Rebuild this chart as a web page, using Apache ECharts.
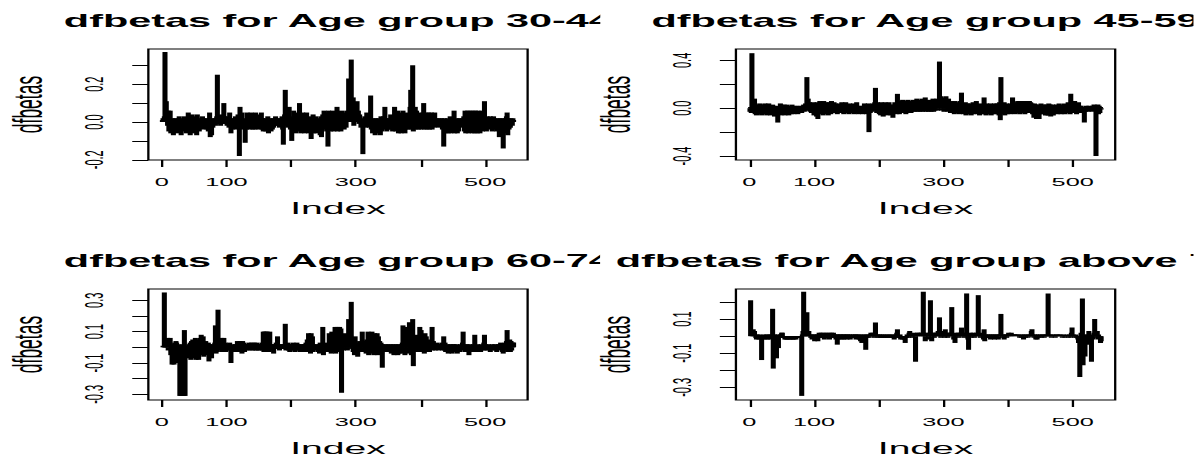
<!DOCTYPE html>
<html><head><meta charset="utf-8">
<script src="https://cdn.jsdelivr.net/npm/echarts@6/dist/echarts.min.js"></script>
<style>
html,body{margin:0;padding:0;background:#fff;width:1194px;height:457px;overflow:hidden}
#wrap{position:absolute;left:0;top:0;width:519.13px;height:480px;transform:scaleX(2.3);transform-origin:0 0}
.p{position:absolute;overflow:hidden}
</style></head><body>
<div id="wrap">
<div class="p" id="p1" style="left:0;top:0;width:260.87px;height:240px"></div>
<div class="p" id="p2" style="left:250px;top:0;width:269.13px;height:240px"></div>
<div class="p" id="p3" style="left:0;top:240px;width:260.87px;height:240px"></div>
<div class="p" id="p4" style="left:250px;top:240px;width:269.13px;height:240px"></div>
</div>
<script>
// ---- data (dfbetas by observation index 1..544) ----
const titles = ["dfbetas for Age group 30-44","dfbetas for Age group 45-59","dfbetas for Age group 60-74","dfbetas for Age group above 75"];
const xTickValues = [0,100,200,300,400,500];
const xLabelValues = [0,100,300,500];
const yTicks3044 = [-0.2,-0.1,0,0.1,0.2,0.3];
const yLabels3044 = [-0.2,0,0.2];
const yTicks4559 = [-0.4,-0.2,0,0.2,0.4];
const yLabels4559 = [-0.4,0,0.4];
const yTicks6074 = [-0.3,-0.2,-0.1,0,0.1,0.2,0.3];
const yLabels6074 = [-0.3,-0.1,0.1,0.3];
const yTicks75 = [-0.3,-0.2,-0.1,0,0.1,0.2];
const yLabels75 = [-0.3,-0.1,0.1];

const dfb3044 = [
0.01,0.02,0.01,0.03,0.37,0.02,0.11,0.04,-0.02,0.06,
-0.05,0.02,0.06,-0.06,0.01,-0.04,0.02,-0.07,0.01,-0.05,
0.02,-0.03,0.01,-0.06,0.02,-0.04,0.03,-0.05,0.01,-0.07,
0.02,-0.04,0.01,-0.05,0.03,-0.03,0.01,-0.06,0.02,-0.04,
0.05,-0.03,0.02,-0.07,0.01,-0.05,0.04,-0.02,0.03,-0.06,
0.01,-0.04,0.02,-0.07,0.04,-0.03,0.01,-0.05,0.02,-0.03,
0.01,-0.02,0.03,-0.04,0.02,-0.01,0.01,-0.03,0.02,-0.04,
0.01,-0.05,0.02,0.05,-0.08,0.01,-0.07,0.02,-0.03,0.01,
-0.01,0.02,-0.02,0.01,0.03,0.25,-0.01,0.03,-0.01,0.02,
-0.02,0.04,0.01,-0.01,0.02,0.10,0.03,-0.01,0.02,0.01,
-0.02,0.03,0.01,-0.03,0.05,0.02,-0.06,0.01,-0.04,0.02,
-0.03,0.01,-0.02,0.03,-0.04,0.02,-0.01,0.04,0.01,-0.18,
0.08,0.02,-0.03,0.05,0.01,-0.04,0.02,-0.03,-0.11,0.01,
-0.04,0.05,0.02,-0.03,0.04,-0.04,0.01,0.05,-0.03,0.02,
-0.04,0.03,0.01,-0.04,0.05,-0.02,0.02,-0.03,0.04,-0.04,
0.02,-0.03,0.01,0.05,-0.04,0.02,-0.05,0.01,-0.03,0.02,
-0.05,0.01,-0.04,0.03,-0.06,0.01,-0.03,0.02,-0.05,0.01,
-0.04,0.02,-0.03,0.01,-0.02,0.03,0.01,-0.02,0.02,-0.01,
0.01,-0.03,0.02,-0.02,0.01,0.03,-0.04,-0.12,0.02,0.04,
0.17,0.03,-0.02,0.05,-0.03,0.02,0.08,0.01,-0.04,0.03,
-0.10,0.02,-0.05,0.06,-0.03,0.04,-0.06,0.02,0.05,-0.04,
0.03,-0.05,0.10,0.02,-0.06,0.04,-0.03,0.05,-0.05,0.02,
-0.06,0.03,-0.04,0.05,-0.05,0.02,-0.06,0.01,-0.04,0.03,
-0.09,0.02,-0.05,0.04,-0.06,0.02,-0.05,0.03,-0.06,0.01,
-0.04,0.02,-0.05,0.01,-0.07,0.03,-0.08,0.02,0.04,-0.03,
0.06,0.02,-0.04,0.05,-0.05,0.02,-0.13,0.06,-0.03,0.04,
-0.05,0.03,-0.04,0.06,0.02,-0.05,0.05,-0.03,0.04,-0.04,
0.08,-0.05,0.02,0.05,-0.04,0.03,-0.05,0.06,-0.03,0.02,
0.05,-0.04,0.02,0.04,-0.03,0.06,0.03,0.05,0.23,0.04,
0.06,0.10,0.33,0.08,0.05,0.13,-0.02,0.10,0.04,0.07,
0.03,0.11,0.02,0.06,-0.01,0.04,0.01,-0.03,0.02,-0.02,
-0.17,0.01,-0.02,0.03,-0.03,0.02,0.05,-0.02,0.04,0.01,
-0.03,0.02,0.14,-0.04,0.01,-0.06,0.02,-0.05,0.01,-0.07,
0.02,-0.05,0.01,-0.06,0.02,-0.04,0.01,-0.07,0.03,-0.05,
0.02,-0.04,0.03,0.01,0.08,-0.03,0.02,-0.05,0.01,-0.04,
0.02,-0.03,0.01,0.04,-0.04,0.02,-0.05,0.01,-0.03,0.08,
0.02,-0.05,0.04,-0.03,0.06,-0.06,0.03,-0.04,0.05,-0.06,
0.02,-0.05,0.06,-0.03,0.01,-0.06,0.03,-0.04,0.02,0.05,
-0.04,0.03,-0.03,0.08,0.17,-0.04,0.06,0.30,-0.05,0.04,
-0.03,0.08,-0.04,0.06,-0.02,0.03,-0.04,0.05,-0.03,0.02,
-0.04,0.03,-0.02,0.05,0.10,-0.04,0.02,-0.03,0.05,-0.04,
0.03,-0.02,0.05,-0.04,0.02,-0.03,0.05,-0.04,0.01,0.03,
-0.03,0.05,0.01,-0.02,0.02,-0.01,0.01,-0.03,0.02,-0.01,
0.01,-0.02,0.02,-0.04,0.01,-0.13,0.02,-0.03,-0.06,0.01,
-0.03,0.02,-0.06,0.01,-0.02,0.03,-0.06,0.01,-0.04,0.02,
-0.05,0.06,-0.06,0.01,-0.03,0.02,-0.06,0.01,-0.05,0.02,
-0.03,0.01,-0.02,0.02,-0.01,0.01,0.03,-0.05,0.06,-0.06,
0.05,-0.04,0.06,-0.06,0.05,-0.05,0.06,-0.04,0.05,-0.06,
0.06,-0.05,0.04,-0.06,0.06,-0.04,0.05,-0.06,0.06,-0.05,
0.04,-0.06,0.05,-0.04,0.06,-0.05,0.03,0.02,0.11,-0.04,
0.02,-0.05,0.03,-0.02,0.02,-0.04,0.01,0.03,-0.03,0.02,
-0.05,0.01,0.03,-0.04,0.02,-0.03,0.01,-0.05,0.02,-0.03,
0.01,-0.08,0.02,-0.06,0.01,-0.05,0.02,-0.14,0.01,-0.06,
0.02,-0.05,0.03,0.05,-0.07,0.02,-0.04,0.01,-0.03,0.02,
0.01,-0.02,0.02,0.01];

const dfb4559 = [
-0.03,0.01,-0.04,0.46,-0.02,0.02,-0.03,0.08,-0.05,0.03,
-0.06,0.01,-0.03,0.02,-0.05,0.04,-0.02,0.03,-0.06,0.01,
-0.04,0.03,-0.02,0.04,-0.05,0.02,-0.06,0.03,-0.03,0.04,
-0.05,0.02,-0.06,0.01,-0.04,0.03,-0.05,0.02,-0.07,0.01,
-0.04,0.02,-0.06,-0.12,-0.03,0.01,-0.05,0.04,-0.06,0.03,
-0.04,0.02,-0.05,0.03,-0.06,0.01,-0.04,0.03,-0.05,0.02,
-0.06,0.01,-0.04,0.02,-0.05,0.03,-0.04,0.01,-0.05,0.02,
-0.04,0.01,-0.03,0.02,-0.05,0.01,-0.04,0.02,-0.03,0.01,
-0.04,0.02,-0.02,0.03,-0.03,0.01,0.04,-0.02,0.26,0.03,
0.08,-0.02,0.05,-0.03,0.02,-0.04,0.04,-0.02,0.05,-0.06,
0.03,-0.05,0.04,-0.07,0.05,-0.09,0.02,-0.05,0.06,-0.04,
0.05,-0.03,0.02,-0.06,0.06,-0.04,0.03,-0.05,0.05,-0.03,
0.04,-0.06,0.05,-0.04,0.03,-0.05,0.06,-0.03,0.02,-0.04,
0.05,-0.03,0.04,-0.04,0.02,-0.05,0.03,-0.02,0.04,-0.04,
0.02,-0.03,0.05,-0.04,0.02,-0.05,0.04,-0.02,0.05,-0.03,
0.02,-0.04,0.03,-0.05,0.04,-0.02,0.03,-0.04,0.02,-0.03,
0.04,-0.05,0.02,-0.03,0.01,0.05,-0.04,0.02,-0.05,0.01,
-0.03,0.02,-0.04,0.01,-0.05,0.02,-0.03,0.04,-0.04,0.01,
-0.05,0.03,-0.02,0.04,-0.20,0.03,-0.04,0.02,0.01,-0.03,
0.04,-0.02,0.03,0.05,0.17,0.02,-0.04,0.05,-0.02,0.04,
-0.05,0.03,-0.06,0.05,-0.03,0.04,-0.07,0.02,-0.05,0.05,
-0.04,0.03,-0.06,0.04,-0.03,0.05,-0.05,0.02,-0.06,0.03,
-0.05,-0.08,0.03,-0.04,0.05,-0.03,0.04,-0.05,0.12,-0.04,
0.03,-0.05,0.06,-0.04,0.05,-0.03,0.07,-0.04,0.04,-0.03,
0.06,-0.05,0.04,-0.03,0.07,-0.04,0.05,-0.03,0.06,-0.04,
0.05,-0.03,0.07,-0.02,0.04,-0.03,0.06,-0.02,0.08,-0.03,
0.05,-0.02,0.07,-0.03,0.06,-0.02,0.08,-0.03,0.05,-0.02,
0.07,0.09,-0.03,0.06,-0.02,0.05,-0.03,0.07,-0.02,0.04,
-0.03,0.06,-0.02,0.08,-0.03,0.07,-0.02,0.06,0.05,0.08,
-0.02,0.07,0.05,0.39,0.06,0.10,-0.02,0.08,0.05,0.09,
-0.03,0.07,0.04,0.10,-0.02,0.06,-0.03,0.08,-0.02,0.05,
-0.04,0.06,-0.03,0.05,-0.04,0.04,-0.05,0.06,-0.03,0.04,
-0.04,0.05,-0.03,0.04,-0.05,0.06,-0.04,0.13,-0.03,0.04,
-0.05,0.03,-0.04,0.05,-0.06,0.02,-0.05,0.04,-0.04,0.03,
-0.05,0.04,-0.06,0.02,-0.04,0.05,-0.05,0.03,-0.04,0.02,
0.06,-0.05,0.03,-0.04,0.02,-0.06,0.04,-0.03,0.02,-0.05,
0.03,-0.04,0.09,-0.05,0.03,-0.06,0.04,-0.05,0.02,-0.04,
0.03,-0.05,0.04,-0.06,0.02,-0.04,0.03,-0.05,0.04,-0.03,
0.02,-0.05,0.04,-0.04,0.03,-0.06,0.05,-0.10,0.26,0.04,
-0.05,0.03,-0.04,0.05,-0.06,0.03,-0.04,0.04,-0.05,0.03,
-0.04,0.02,-0.05,0.04,-0.03,0.02,0.09,-0.04,0.03,-0.05,
0.04,-0.03,0.05,-0.04,0.06,-0.03,0.04,-0.05,0.05,-0.03,
0.06,-0.04,0.05,-0.03,0.04,-0.05,0.06,-0.03,0.05,-0.04,
0.04,-0.03,0.06,-0.04,0.05,-0.03,0.04,-0.05,0.03,-0.08,
0.04,-0.06,0.03,-0.09,0.02,-0.07,0.03,-0.09,0.02,-0.05,
0.04,-0.03,0.02,-0.05,0.03,-0.04,0.01,-0.06,0.03,-0.05,
0.02,-0.06,0.04,-0.05,0.03,-0.07,0.02,-0.04,0.03,-0.06,
0.02,-0.03,0.01,-0.04,0.03,-0.05,0.02,-0.03,0.04,-0.04,
0.02,-0.05,0.03,-0.04,0.02,-0.03,0.04,-0.05,0.02,-0.04,
0.03,-0.03,0.05,-0.04,0.02,-0.05,0.12,-0.03,0.06,-0.04,
0.05,-0.03,0.06,-0.04,0.04,-0.05,0.03,-0.03,0.05,-0.04,
0.02,-0.03,0.02,-0.04,0.01,-0.02,0.01,-0.12,0.01,-0.03,
0.02,-0.02,0.01,-0.03,0.02,-0.01,0.01,-0.02,0.01,-0.03,
0.02,-0.01,0.03,-0.02,0.02,-0.40,0.01,-0.03,0.03,-0.05,
0.02,-0.04,0.01,-0.01];

const dfb6074 = [
0.00,0.01,0.00,0.35,0.01,0.02,0.00,0.01,0.06,-0.02,
0.05,0.00,0.06,-0.05,-0.03,-0.11,0.02,-0.08,-0.11,0.03,
-0.10,0.04,0.03,-0.06,-0.10,0.02,-0.07,-0.31,-0.04,-0.31,
-0.31,-0.31,0.02,-0.31,0.11,-0.31,-0.05,-0.02,-0.06,0.01,
-0.07,0.02,-0.05,0.03,-0.08,0.04,-0.06,0.05,-0.07,0.03,
-0.05,0.06,-0.08,0.05,-0.06,0.04,-0.08,0.03,-0.04,0.06,
0.08,-0.05,0.03,0.07,-0.06,0.02,-0.04,0.04,-0.03,0.01,
-0.05,0.03,-0.09,0.02,-0.04,0.01,-0.07,0.02,-0.03,0.01,
-0.02,0.03,0.14,-0.04,0.02,-0.03,0.24,0.05,-0.02,0.04,
-0.01,0.06,0.02,-0.03,0.01,0.06,-0.02,0.03,-0.03,0.01,
-0.02,0.02,-0.01,0.01,0.03,-0.02,-0.10,0.01,-0.03,0.02,
-0.02,0.01,-0.03,0.02,0.01,-0.02,0.04,-0.03,0.03,-0.02,
0.04,-0.03,0.02,-0.04,0.04,-0.02,0.03,-0.03,0.02,-0.01,
0.02,-0.02,0.01,-0.01,0.03,-0.02,0.02,-0.01,0.03,-0.02,
0.02,-0.01,0.03,-0.02,0.01,-0.02,0.03,-0.01,0.02,-0.02,
0.01,-0.02,0.02,-0.01,0.03,-0.02,0.10,-0.03,0.10,-0.02,
0.10,-0.03,0.10,-0.02,0.08,-0.03,0.10,0.02,-0.02,0.01,
-0.01,0.02,-0.04,0.01,0.02,-0.01,0.03,0.01,0.07,-0.01,
0.02,-0.02,0.01,-0.01,0.02,-0.01,0.01,0.02,-0.01,0.02,
0.15,-0.02,0.02,-0.01,0.03,-0.02,0.02,-0.03,0.01,-0.02,
0.02,-0.01,0.03,-0.02,0.01,-0.03,0.02,-0.02,0.03,-0.01,
0.02,-0.02,0.01,-0.03,0.02,-0.01,0.02,-0.02,0.01,-0.03,
0.02,-0.01,0.03,-0.02,0.05,-0.03,0.09,-0.02,0.08,-0.04,
0.09,-0.02,0.07,-0.03,0.02,-0.01,0.01,-0.02,0.02,-0.01,
0.01,-0.03,0.02,-0.04,0.03,-0.02,0.02,0.01,0.13,-0.05,
0.02,-0.03,0.01,-0.02,0.03,-0.01,0.02,-0.03,0.09,-0.02,
0.08,-0.04,0.10,-0.02,0.09,-0.03,0.07,0.13,-0.04,0.12,
-0.02,0.13,-0.03,0.11,0.13,-0.02,0.12,-0.29,0.02,0.04,
-0.02,0.03,0.09,-0.01,0.02,0.05,-0.02,0.06,0.18,0.04,
-0.01,0.08,0.29,0.05,0.02,-0.03,0.06,-0.05,0.07,-0.04,
0.03,-0.02,-0.06,0.02,-0.03,0.04,-0.02,0.03,-0.01,0.10,
0.02,-0.03,0.04,-0.02,0.03,-0.04,0.05,-0.02,0.10,-0.05,
0.09,-0.03,0.06,-0.04,0.10,-0.03,0.08,-0.05,0.09,-0.04,
0.06,-0.03,0.09,-0.05,0.07,-0.03,0.04,-0.02,0.03,-0.04,
-0.13,0.02,-0.03,0.01,-0.02,0.02,-0.01,0.01,-0.03,0.02,
-0.02,0.01,-0.03,0.02,-0.04,0.01,-0.03,0.02,-0.05,0.01,
-0.04,0.02,-0.03,0.01,-0.05,0.02,-0.04,0.01,-0.03,0.02,
-0.04,0.03,0.14,-0.03,0.02,-0.05,0.13,0.02,-0.04,0.03,
-0.02,0.05,0.16,-0.03,0.04,-0.05,0.06,0.18,-0.12,0.03,
-0.02,0.04,-0.03,0.02,0.08,-0.02,0.05,-0.03,0.13,-0.02,
0.11,-0.03,0.08,-0.02,0.06,-0.04,0.09,-0.02,0.07,-0.03,
0.05,-0.02,0.04,-0.03,0.02,-0.01,0.03,0.13,-0.02,0.04,
-0.01,0.02,-0.02,0.01,0.03,-0.01,0.02,-0.02,0.01,-0.01,
0.02,-0.01,0.03,-0.02,0.01,0.07,-0.02,0.03,-0.03,0.01,
-0.02,0.02,-0.04,0.01,-0.03,0.02,-0.01,0.01,-0.04,0.02,
-0.01,0.02,-0.03,0.01,-0.02,0.02,-0.04,0.01,-0.02,0.01,
-0.03,0.02,-0.01,0.01,0.03,0.10,-0.02,0.02,-0.03,0.01,
-0.02,0.02,-0.01,0.01,-0.05,0.02,-0.03,0.01,-0.02,0.01,
-0.03,0.02,-0.01,0.08,-0.02,0.01,-0.03,0.02,-0.01,0.01,
-0.02,0.01,-0.03,0.02,-0.01,0.01,-0.02,0.03,0.08,-0.02,
0.02,-0.01,0.01,-0.02,0.02,-0.01,0.01,-0.03,0.01,-0.01,
0.02,-0.02,0.01,-0.01,0.02,-0.02,0.01,-0.03,0.01,0.02,
-0.01,0.02,-0.02,0.03,-0.01,0.02,-0.03,-0.04,0.02,-0.02,
0.03,-0.01,0.04,0.11,-0.03,0.04,-0.02,0.05,-0.03,0.04,
-0.02,0.03,0.02,0.03];

const dfb75 = [
0.00,0.21,0.01,0.00,0.02,0.04,0.01,0.03,0.00,-0.01,
-0.02,0.01,-0.01,0.00,-0.02,0.01,-0.01,0.00,-0.14,-0.02,
0.00,-0.01,0.01,-0.02,0.00,-0.01,0.01,-0.02,0.00,-0.01,
0.01,-0.02,0.00,0.01,-0.01,0.16,-0.19,-0.03,0.01,-0.02,
0.00,-0.13,-0.02,0.01,-0.07,0.00,-0.01,0.01,0.00,0.02,
0.02,-0.01,0.00,-0.01,-0.02,-0.01,-0.02,-0.01,-0.02,-0.01,
-0.01,-0.02,-0.01,-0.02,-0.01,-0.01,-0.02,-0.01,-0.02,-0.01,
-0.01,-0.02,-0.01,-0.01,0.00,-0.01,0.00,-0.01,0.00,-0.01,
-0.35,0.01,0.03,0.26,0.02,0.01,0.03,0.01,0.14,0.02,
0.01,0.03,0.00,0.01,-0.01,0.01,-0.02,0.00,-0.01,0.01,
-0.03,0.00,0.01,-0.02,0.01,-0.03,0.00,0.02,-0.01,0.01,
0.02,-0.01,0.01,0.00,0.02,-0.02,0.01,-0.01,0.02,0.01,
-0.01,0.01,0.02,-0.02,0.01,0.00,0.02,-0.01,0.01,0.02,
-0.01,0.01,0.00,-0.02,0.01,-0.05,0.01,-0.02,0.00,0.01,
-0.01,0.01,-0.02,0.00,0.01,-0.02,0.01,0.00,-0.01,0.01,
-0.02,0.01,0.00,-0.01,0.01,-0.02,0.00,0.01,-0.01,0.00,
0.01,-0.01,0.00,0.01,-0.02,0.01,0.00,-0.01,0.01,-0.02,
0.00,-0.03,0.01,-0.04,0.00,-0.02,0.01,-0.03,-0.01,-0.08,
0.01,-0.01,0.00,0.01,-0.01,0.00,0.01,0.02,0.01,0.00,
0.02,0.01,-0.01,0.01,0.08,0.01,0.00,0.01,-0.01,0.00,
0.01,-0.01,0.00,0.01,-0.01,0.00,0.01,-0.01,0.00,-0.01,
0.01,0.00,-0.01,0.01,0.00,-0.01,0.00,0.01,-0.01,0.00,
0.01,0.00,-0.01,-0.02,0.00,0.01,-0.01,0.02,0.04,0.00,
-0.01,0.00,0.01,-0.02,0.00,-0.01,-0.02,0.00,-0.01,-0.02,
-0.04,0.00,-0.01,0.01,0.00,-0.01,0.02,0.03,0.01,0.00,
0.01,-0.01,0.00,0.01,0.02,0.00,-0.15,0.01,0.00,0.02,
0.01,0.00,0.02,0.01,0.00,0.02,0.01,0.00,0.26,0.02,
0.01,-0.03,0.00,0.02,0.01,0.00,-0.02,0.01,0.02,0.21,
0.01,-0.03,0.00,0.02,0.01,-0.01,0.02,0.01,0.00,0.02,
0.01,0.03,0.00,0.11,0.02,-0.01,0.01,0.03,0.00,0.02,
0.01,-0.01,0.04,0.01,0.00,0.02,-0.01,0.01,0.02,0.00,
0.01,0.02,0.17,0.01,0.00,-0.02,0.01,-0.04,0.00,0.02,
0.01,0.00,0.02,-0.01,0.01,0.00,0.02,0.05,0.01,0.00,
0.02,-0.01,0.01,0.00,0.02,0.25,0.01,-0.02,-0.08,0.01,
0.00,0.02,-0.01,0.01,0.00,0.02,0.01,-0.01,0.00,0.01,
0.02,0.00,0.01,0.24,0.01,0.00,-0.01,0.01,0.00,0.02,
0.01,-0.02,0.04,-0.03,0.01,0.00,-0.01,0.01,0.00,-0.01,
0.01,0.00,-0.02,0.01,0.00,-0.01,0.01,0.00,-0.02,0.01,
0.00,-0.01,0.01,0.00,-0.02,0.01,0.00,0.01,0.13,0.00,
-0.01,0.01,0.00,-0.02,0.01,0.00,0.01,-0.01,0.00,0.01,
0.02,0.01,0.00,0.01,0.02,0.01,0.00,0.01,0.00,0.01,
0.00,0.01,0.00,0.01,0.00,0.01,0.00,-0.01,0.00,0.01,
-0.01,0.00,0.01,-0.02,0.00,0.01,-0.01,0.00,0.01,0.00,
-0.01,0.01,0.00,0.01,0.00,0.03,0.04,0.01,0.00,-0.01,
0.01,0.00,-0.02,0.01,-0.02,0.00,0.01,-0.01,0.00,0.01,
0.00,-0.01,0.01,0.00,0.01,-0.01,0.00,0.01,0.00,0.01,
0.00,0.25,0.01,0.00,0.01,0.00,-0.01,0.00,0.01,0.00,
0.01,0.00,-0.01,0.00,0.01,0.00,0.01,0.00,0.01,0.00,
0.00,0.01,0.00,-0.01,0.00,0.01,0.00,-0.01,0.00,0.00,
0.01,0.00,-0.01,0.00,0.01,0.00,-0.01,0.02,0.05,0.00,
0.01,0.00,-0.01,0.00,0.01,-0.01,0.00,-0.02,-0.04,-0.01,
-0.24,-0.05,0.02,-0.03,0.22,-0.17,-0.02,0.01,-0.12,-0.03,
0.00,-0.02,0.01,-0.03,0.03,-0.05,0.00,-0.02,-0.15,0.01,
-0.02,0.00,0.02,0.10,-0.01,0.01,0.00,0.03,-0.02,0.01,
-0.01,0.00,-0.04,-0.03];

// ---- layout ----
const FONT = "'Liberation Sans', Arial, sans-serif";
const panels = [
  {id:'p1', title:titles[0], values:dfb3044, gl:64.5, cx:146.9, ymin:-0.201, ymax:0.386, ticks:yTicks3044, labels:yLabels3044},
  {id:'p2', title:titles[1], values:dfb4559, gl:69.97, cx:152.37, ymin:-0.433, ymax:0.495, ticks:yTicks4559, labels:yLabels4559},
  {id:'p3', title:titles[2], values:dfb6074, gl:64.5, cx:146.9, ymin:-0.336, ymax:0.372, ticks:yTicks6074, labels:yLabels6074},
  {id:'p4', title:titles[3], values:dfb75,   gl:69.97, cx:152.37, ymin:-0.374, ymax:0.276, ticks:yTicks75,   labels:yLabels75}
];

panels.forEach(p => {
  const chart = echarts.init(document.getElementById(p.id), null, {renderer:'svg'});
  chart.setOption({
    animation:false,
    title:{text:p.title, left:p.cx, top:12, textAlign:'center', padding:0,
      textStyle:{fontFamily:FONT, fontSize:18, fontWeight:'bold', color:'#000'}},
    grid:{left:p.gl, top:49, width:164.9, height:111, show:true, borderColor:'#000', borderWidth:1,
      backgroundColor:'transparent', containLabel:false, outerBoundsMode:'none'},
    xAxis:{type:'value', min:-20.72, max:565.72, name:'Index', nameLocation:'middle', nameGap:39.5,
      nameTextStyle:{fontFamily:FONT, fontSize:17, color:'#000'},
      axisLine:{show:false, onZero:false}, splitLine:{show:false},
      axisTick:{show:true, length:7, lineStyle:{color:'#000', width:1}, customValues:xTickValues},
      axisLabel:{customValues:xLabelValues, margin:17, fontSize:11, color:'#000', fontFamily:FONT}},
    yAxis:{type:'value', min:p.ymin, max:p.ymax, name:'dfbetas', nameLocation:'middle', nameGap:43,
      nameTextStyle:{fontFamily:FONT, fontSize:17.5, color:'#000'},
      axisLine:{show:false, onZero:false}, splitLine:{show:false},
      axisTick:{show:true, length:7, lineStyle:{color:'#000', width:1}, customValues:p.ticks},
      axisLabel:{customValues:p.labels, rotate:90, margin:18, fontSize:11, color:'#000', fontFamily:FONT,
        formatter:v => Number(v).toFixed(1)}},
    series:[{type:'bar', data:p.values.map((v,i)=>[i+1, v]), barWidth:2.2, large:false, silent:true,
      itemStyle:{color:'#000'}}]
  });
});
</script>
</body></html>
